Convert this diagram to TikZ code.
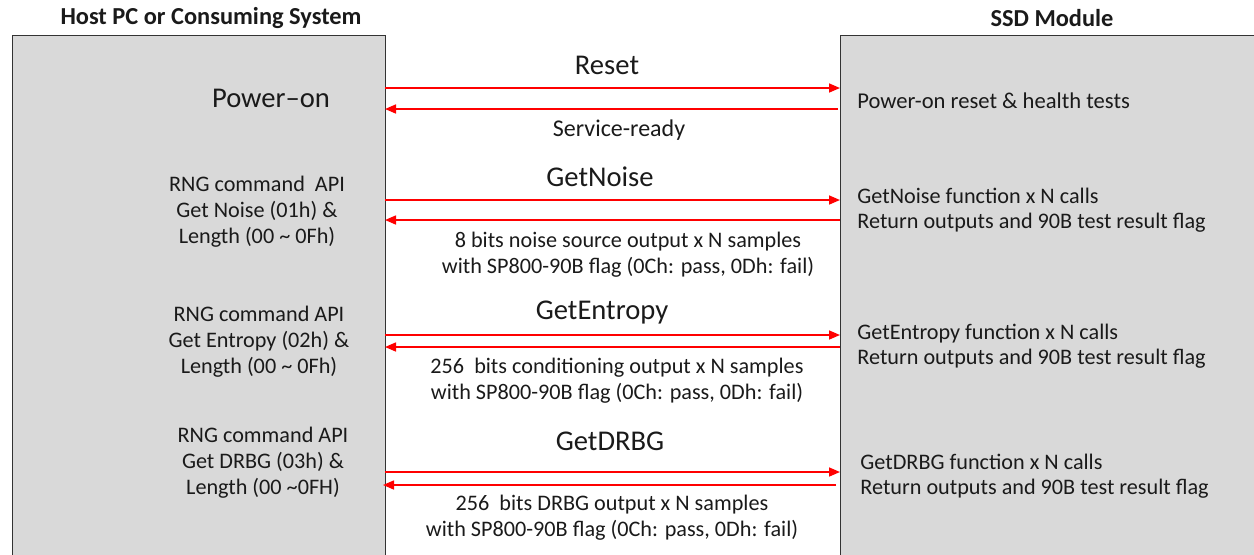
\documentclass[tikz,border=0pt]{standalone}
\usepackage{fontspec}
\setmainfont{Carlito}
\usetikzlibrary{arrows.meta}
\definecolor{boxgray}{HTML}{D9D9D9}
\definecolor{txt}{HTML}{1A1A1A}
\begin{document}
\begin{tikzpicture}[x=0.5pt,y=-0.5pt,
  sysbox/.style={draw=black!80,line width=0.6pt,fill=boxgray},
  hdr/.style={font=\fontsize{12.2}{14}\selectfont\bfseries,text=txt,inner sep=0pt},
  big/.style={font=\fontsize{14.3}{16}\selectfont,text=txt,inner sep=0pt},
  small/.style={font=\fontsize{11.1}{13}\selectfont,text=txt,inner sep=0pt,align=center},
  side/.style={font=\fontsize{11.1}{12.6}\selectfont,text=txt,inner sep=0pt,align=left,anchor=west},
  msg/.style={draw=red,line width=0.8pt,-{Triangle[length=5.5pt,width=4.5pt]}}]
\useasboundingbox (0,0) rectangle (1254,554);
\clip (0,0) rectangle (1254,554);
% boxes
\node[sysbox,minimum width=373pt*0.5,minimum height=530pt*0.5,anchor=north west,inner sep=0pt] (host) at (12,35) {};
\node[sysbox,minimum width=430pt*0.5,minimum height=530pt*0.5,anchor=north west,inner sep=0pt] (ssd) at (840,35) {};
% headers
\node[hdr] (hhost) at (211,18) {Host PC or Consuming System};
\node[hdr] (hssd) at (1052,18) {SSD Module};
% coordinates for arrow ends
\coordinate (a1s) at (385,88);  \coordinate (a1e) at (840,88);
\coordinate (a2s) at (838,109); \coordinate (a2e) at (385,109);
\coordinate (b1s) at (385,200); \coordinate (b1e) at (840,200);
\coordinate (b2s) at (840,220); \coordinate (b2e) at (385,220);
\coordinate (c1s) at (385,335); \coordinate (c1e) at (840,335);
\coordinate (c2s) at (840,347); \coordinate (c2e) at (385,347);
\coordinate (d1s) at (385,472); \coordinate (d1e) at (840,472);
\coordinate (d2s) at (836,485); \coordinate (d2e) at (383,485);
\draw[msg] (a1s) -- (a1e);
\draw[msg] (a2s) -- (a2e);
\draw[msg] (b1s) -- (b1e);
\draw[msg] (b2s) -- (b2e);
\draw[msg] (c1s) -- (c1e);
\draw[msg] (c2s) -- (c2e);
\draw[msg] (d1s) -- (d1e);
\draw[msg] (d2s) -- (d2e);
% Power-on stage
\node[big] (pwr) at (271,98) {Power–on};
\node[big] (reset) at (607,65) {Reset};
\node[small,font=\fontsize{12}{14}\selectfont] (srv) at (619,130) {Service-ready};
\node[side,font=\fontsize{11.3}{12.6}\selectfont] (pwrssd) at (857,101) {Power-on reset \& health tests};
% GetNoise
\node[small] (nl) at (257,212) {RNG command\ \ API\\Get Noise (01h) \&\\Length (00 \textasciitilde\ 0Fh)};
\node[big] (gn) at (600,177) {GetNoise};
\node[small] (nr) at (628,255) {8 bits noise source output x N samples\\with SP800-90B flag (0Ch: pass, 0Dh: fail)};
\node[side] (ns) at (857,210) {GetNoise function x N calls\\Return outputs and 90B test result flag};
% GetEntropy
\node[small] (el) at (259,342) {RNG command API\\Get Entropy (02h) \&\\Length (00 \textasciitilde\ 0Fh)};
\node[big] (ge) at (602,313) {GetEntropy};
\node[small] (er) at (617,381) {256\ \ bits conditioning output x N samples\\with SP800-90B flag (0Ch: pass, 0Dh: fail)};
\node[side] (es) at (857,346) {GetEntropy function x N calls\\Return outputs and 90B test result flag};
% GetDRBG
\node[small] (dl) at (263,463) {RNG command API\\Get DRBG (03h) \&\\Length (00 \textasciitilde0FH)};
\node[big] (gd) at (610,441) {GetDRBG};
\node[small] (dr) at (612,518) {256\ \ bits DRBG output x N samples\\with SP800-90B flag (0Ch: pass, 0Dh: fail)};
\node[side] (ds) at (860,476) {GetDRBG function x N calls\\Return outputs and 90B test result flag};
\end{tikzpicture}
\end{document}
